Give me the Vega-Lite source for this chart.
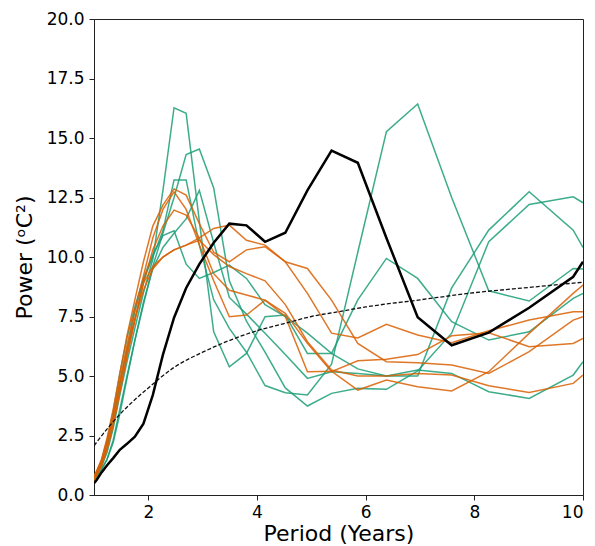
{
"$schema": "https://vega.github.io/schema/vega-lite/v6.json",
"width": 489, "height": 476,
"autosize": {"type": "none"},
"padding": {"left": 94, "top": 19, "right": 12, "bottom": 51},
"background": "white",
"config": {
  "view": {"stroke": "#222", "strokeWidth": 1},
  "axis": {"grid": false, "labelFont": "DejaVu Sans", "titleFont": "DejaVu Sans", "labelFontSize": 17, "titleFontSize": 22, "titleFontWeight": "normal", "labelColor": "#000", "titleColor": "#000", "domainColor": "#222", "tickColor": "#222", "tickSize": 5, "domainWidth": 1, "tickWidth": 1}
},
"datasets": {
"spec": [
{"s":"G1","p":1,"v":0.7},{"s":"G1","p":1.045,"v":0.9},{"s":"G1","p":1.139,"v":1.2},{"s":"G1","p":1.241,"v":1.8},{"s":"G1","p":1.353,"v":2.8},{"s":"G1","p":1.475,"v":4.2},{"s":"G1","p":1.607,"v":5.6},{"s":"G1","p":1.752,"v":7.0},{"s":"G1","p":1.91,"v":8.5},{"s":"G1","p":2.082,"v":9.9},{"s":"G1","p":2.269,"v":12.8},{"s":"G1","p":2.473,"v":16.27},{"s":"G1","p":2.696,"v":16.04},{"s":"G1","p":2.939,"v":11.5},{"s":"G1","p":3.203,"v":6.86},{"s":"G1","p":3.491,"v":5.39},{"s":"G1","p":3.806,"v":5.95},{"s":"G1","p":4.148,"v":7.49},{"s":"G1","p":4.521,"v":7.56},{"s":"G1","p":4.928,"v":5.95},{"s":"G1","p":5.372,"v":5.95},{"s":"G1","p":5.855,"v":8.2},{"s":"G1","p":6.382,"v":9.94},{"s":"G1","p":6.957,"v":9.1},{"s":"G1","p":7.583,"v":7.28},{"s":"G1","p":8.265,"v":6.51},{"s":"G1","p":9.009,"v":6.86},{"s":"G1","p":9.82,"v":8.26},{"s":"G1","p":10,"v":8.47},
{"s":"G2","p":1,"v":0.6},{"s":"G2","p":1.045,"v":0.75},{"s":"G2","p":1.139,"v":1.05},{"s":"G2","p":1.241,"v":1.5},{"s":"G2","p":1.353,"v":2.3},{"s":"G2","p":1.475,"v":3.6},{"s":"G2","p":1.607,"v":5.0},{"s":"G2","p":1.752,"v":6.5},{"s":"G2","p":1.91,"v":8.0},{"s":"G2","p":2.082,"v":9.6},{"s":"G2","p":2.269,"v":11.0},{"s":"G2","p":2.473,"v":12.5},{"s":"G2","p":2.696,"v":14.3},{"s":"G2","p":2.939,"v":14.54},{"s":"G2","p":3.203,"v":12.9},{"s":"G2","p":3.491,"v":9.0},{"s":"G2","p":3.806,"v":7.3},{"s":"G2","p":4.148,"v":6.0},{"s":"G2","p":4.521,"v":4.5},{"s":"G2","p":4.928,"v":3.74},{"s":"G2","p":5.372,"v":4.27},{"s":"G2","p":5.855,"v":4.48},{"s":"G2","p":6.382,"v":4.44},{"s":"G2","p":6.957,"v":5.21},{"s":"G2","p":7.583,"v":6.8},{"s":"G2","p":8.265,"v":10.64},{"s":"G2","p":9.009,"v":12.21},{"s":"G2","p":9.82,"v":12.53},{"s":"G2","p":10,"v":12.28},
{"s":"G3","p":1,"v":0.7},{"s":"G3","p":1.045,"v":0.85},{"s":"G3","p":1.139,"v":1.3},{"s":"G3","p":1.241,"v":2.0},{"s":"G3","p":1.353,"v":3.1},{"s":"G3","p":1.475,"v":4.6},{"s":"G3","p":1.607,"v":6.1},{"s":"G3","p":1.752,"v":7.7},{"s":"G3","p":1.91,"v":9.0},{"s":"G3","p":2.082,"v":10.0},{"s":"G3","p":2.269,"v":11.1},{"s":"G3","p":2.473,"v":13.24},{"s":"G3","p":2.696,"v":13.24},{"s":"G3","p":2.939,"v":10.5},{"s":"G3","p":3.203,"v":8.2},{"s":"G3","p":3.491,"v":7.0},{"s":"G3","p":3.806,"v":6.0},{"s":"G3","p":4.148,"v":4.6},{"s":"G3","p":4.521,"v":4.3},{"s":"G3","p":4.928,"v":4.2},{"s":"G3","p":5.372,"v":5.5},{"s":"G3","p":5.855,"v":10.2},{"s":"G3","p":6.382,"v":15.27},{"s":"G3","p":6.957,"v":16.43},{"s":"G3","p":7.583,"v":12.5},{"s":"G3","p":8.265,"v":8.58},{"s":"G3","p":9.009,"v":8.15},{"s":"G3","p":9.82,"v":9.52},{"s":"G3","p":10,"v":9.5},
{"s":"G4","p":1,"v":0.65},{"s":"G4","p":1.045,"v":0.8},{"s":"G4","p":1.139,"v":1.1},{"s":"G4","p":1.241,"v":1.5},{"s":"G4","p":1.353,"v":2.2},{"s":"G4","p":1.475,"v":3.4},{"s":"G4","p":1.607,"v":4.9},{"s":"G4","p":1.752,"v":6.5},{"s":"G4","p":1.91,"v":8.1},{"s":"G4","p":2.082,"v":9.5},{"s":"G4","p":2.269,"v":10.4},{"s":"G4","p":2.473,"v":11.0},{"s":"G4","p":2.696,"v":11.6},{"s":"G4","p":2.939,"v":12.8},{"s":"G4","p":3.203,"v":10.6},{"s":"G4","p":3.491,"v":8.3},{"s":"G4","p":3.806,"v":7.6},{"s":"G4","p":4.148,"v":6.8},{"s":"G4","p":4.521,"v":5.9},{"s":"G4","p":4.928,"v":4.9},{"s":"G4","p":5.372,"v":5.18},{"s":"G4","p":5.855,"v":5.1},{"s":"G4","p":6.382,"v":5.0},{"s":"G4","p":6.957,"v":5.25},{"s":"G4","p":7.583,"v":5.11},{"s":"G4","p":8.265,"v":4.34},{"s":"G4","p":9.009,"v":4.06},{"s":"G4","p":9.82,"v":5.04},{"s":"G4","p":10,"v":5.6},
{"s":"G5","p":1,"v":0.75},{"s":"G5","p":1.045,"v":0.95},{"s":"G5","p":1.139,"v":1.45},{"s":"G5","p":1.241,"v":2.3},{"s":"G5","p":1.353,"v":3.5},{"s":"G5","p":1.475,"v":5.1},{"s":"G5","p":1.607,"v":6.6},{"s":"G5","p":1.752,"v":7.9},{"s":"G5","p":1.91,"v":9.1},{"s":"G5","p":2.082,"v":10.1},{"s":"G5","p":2.269,"v":10.9},{"s":"G5","p":2.473,"v":11.1},{"s":"G5","p":2.696,"v":9.7},{"s":"G5","p":2.939,"v":9.1},{"s":"G5","p":3.203,"v":9.35},{"s":"G5","p":3.491,"v":9.66},{"s":"G5","p":3.806,"v":9.1},{"s":"G5","p":4.148,"v":8.0},{"s":"G5","p":4.521,"v":7.5},{"s":"G5","p":4.928,"v":6.8},{"s":"G5","p":5.372,"v":5.95},{"s":"G5","p":5.855,"v":5.3},{"s":"G5","p":6.382,"v":5.0},{"s":"G5","p":6.957,"v":5.0},{"s":"G5","p":7.583,"v":8.7},{"s":"G5","p":8.265,"v":11.13},{"s":"G5","p":9.009,"v":12.74},{"s":"G5","p":9.82,"v":11.13},{"s":"G5","p":10,"v":10.4},
{"s":"O1","p":1,"v":0.7},{"s":"O1","p":1.045,"v":0.9},{"s":"O1","p":1.139,"v":1.4},{"s":"O1","p":1.241,"v":2.2},{"s":"O1","p":1.353,"v":3.3},{"s":"O1","p":1.475,"v":4.8},{"s":"O1","p":1.607,"v":6.3},{"s":"O1","p":1.752,"v":7.8},{"s":"O1","p":1.91,"v":9.2},{"s":"O1","p":2.082,"v":10.8},{"s":"O1","p":2.269,"v":12.0},{"s":"O1","p":2.473,"v":12.74},{"s":"O1","p":2.696,"v":12.0},{"s":"O1","p":2.939,"v":10.5},{"s":"O1","p":3.203,"v":9.0},{"s":"O1","p":3.491,"v":7.49},{"s":"O1","p":3.806,"v":7.56},{"s":"O1","p":4.148,"v":8.19},{"s":"O1","p":4.521,"v":7.63},{"s":"O1","p":4.928,"v":6.37},{"s":"O1","p":5.372,"v":5.18},{"s":"O1","p":5.855,"v":5.64},{"s":"O1","p":6.382,"v":5.7},{"s":"O1","p":6.957,"v":5.9},{"s":"O1","p":7.583,"v":6.69},{"s":"O1","p":8.265,"v":6.82},{"s":"O1","p":9.009,"v":6.23},{"s":"O1","p":9.82,"v":6.37},{"s":"O1","p":10,"v":6.58},
{"s":"O2","p":1,"v":0.8},{"s":"O2","p":1.045,"v":1.0},{"s":"O2","p":1.139,"v":1.5},{"s":"O2","p":1.241,"v":2.4},{"s":"O2","p":1.353,"v":3.6},{"s":"O2","p":1.475,"v":5.1},{"s":"O2","p":1.607,"v":6.7},{"s":"O2","p":1.752,"v":8.2},{"s":"O2","p":1.91,"v":9.8},{"s":"O2","p":2.082,"v":11.3},{"s":"O2","p":2.269,"v":12.18},{"s":"O2","p":2.473,"v":12.86},{"s":"O2","p":2.696,"v":12.6},{"s":"O2","p":2.939,"v":11.4},{"s":"O2","p":3.203,"v":10.2},{"s":"O2","p":3.491,"v":9.8},{"s":"O2","p":3.806,"v":10.3},{"s":"O2","p":4.148,"v":10.43},{"s":"O2","p":4.521,"v":9.8},{"s":"O2","p":4.928,"v":8.47},{"s":"O2","p":5.372,"v":6.8},{"s":"O2","p":5.855,"v":6.6},{"s":"O2","p":6.382,"v":7.17},{"s":"O2","p":6.957,"v":6.72},{"s":"O2","p":7.583,"v":6.4},{"s":"O2","p":8.265,"v":6.9},{"s":"O2","p":9.009,"v":7.35},{"s":"O2","p":9.82,"v":7.7},{"s":"O2","p":10,"v":7.7},
{"s":"O3","p":1,"v":0.75},{"s":"O3","p":1.045,"v":0.95},{"s":"O3","p":1.139,"v":1.45},{"s":"O3","p":1.241,"v":2.2},{"s":"O3","p":1.353,"v":3.3},{"s":"O3","p":1.475,"v":4.7},{"s":"O3","p":1.607,"v":6.1},{"s":"O3","p":1.752,"v":7.4},{"s":"O3","p":1.91,"v":8.6},{"s":"O3","p":2.082,"v":9.5},{"s":"O3","p":2.269,"v":10.0},{"s":"O3","p":2.473,"v":10.3},{"s":"O3","p":2.696,"v":10.5},{"s":"O3","p":2.939,"v":10.8},{"s":"O3","p":3.203,"v":11.2},{"s":"O3","p":3.491,"v":11.34},{"s":"O3","p":3.806,"v":10.7},{"s":"O3","p":4.148,"v":10.5},{"s":"O3","p":4.521,"v":9.8},{"s":"O3","p":4.928,"v":9.52},{"s":"O3","p":5.372,"v":8.19},{"s":"O3","p":5.855,"v":6.37},{"s":"O3","p":6.382,"v":5.6},{"s":"O3","p":6.957,"v":5.56},{"s":"O3","p":7.583,"v":5.46},{"s":"O3","p":8.265,"v":5.11},{"s":"O3","p":9.009,"v":6.02},{"s":"O3","p":9.82,"v":7.35},{"s":"O3","p":10,"v":7.49},
{"s":"O4","p":1,"v":0.6},{"s":"O4","p":1.045,"v":0.8},{"s":"O4","p":1.139,"v":1.2},{"s":"O4","p":1.241,"v":1.9},{"s":"O4","p":1.353,"v":2.9},{"s":"O4","p":1.475,"v":4.3},{"s":"O4","p":1.607,"v":5.8},{"s":"O4","p":1.752,"v":7.3},{"s":"O4","p":1.91,"v":8.9},{"s":"O4","p":2.082,"v":10.3},{"s":"O4","p":2.269,"v":11.3},{"s":"O4","p":2.473,"v":11.97},{"s":"O4","p":2.696,"v":11.76},{"s":"O4","p":2.939,"v":10.8},{"s":"O4","p":3.203,"v":9.3},{"s":"O4","p":3.491,"v":8.6},{"s":"O4","p":3.806,"v":8.4},{"s":"O4","p":4.148,"v":8.19},{"s":"O4","p":4.521,"v":7.5},{"s":"O4","p":4.928,"v":5.18},{"s":"O4","p":5.372,"v":5.2},{"s":"O4","p":5.855,"v":4.41},{"s":"O4","p":6.382,"v":4.83},{"s":"O4","p":6.957,"v":4.55},{"s":"O4","p":7.583,"v":4.37},{"s":"O4","p":8.265,"v":5.18},{"s":"O4","p":9.009,"v":6.79},{"s":"O4","p":9.82,"v":8.47},{"s":"O4","p":10,"v":8.82},
{"s":"O5","p":1,"v":0.7},{"s":"O5","p":1.045,"v":0.85},{"s":"O5","p":1.139,"v":1.3},{"s":"O5","p":1.241,"v":2.0},{"s":"O5","p":1.353,"v":3.0},{"s":"O5","p":1.475,"v":4.4},{"s":"O5","p":1.607,"v":5.9},{"s":"O5","p":1.752,"v":7.4},{"s":"O5","p":1.91,"v":8.9},{"s":"O5","p":2.082,"v":9.6},{"s":"O5","p":2.269,"v":10.0},{"s":"O5","p":2.473,"v":10.3},{"s":"O5","p":2.696,"v":10.5},{"s":"O5","p":2.939,"v":10.7},{"s":"O5","p":3.203,"v":10.1},{"s":"O5","p":3.491,"v":9.6},{"s":"O5","p":3.806,"v":9.3},{"s":"O5","p":4.148,"v":9.0},{"s":"O5","p":4.521,"v":8.0},{"s":"O5","p":4.928,"v":6.44},{"s":"O5","p":5.372,"v":5.25},{"s":"O5","p":5.855,"v":5.0},{"s":"O5","p":6.382,"v":5.0},{"s":"O5","p":6.957,"v":5.1},{"s":"O5","p":7.583,"v":5.04},{"s":"O5","p":8.265,"v":4.59},{"s":"O5","p":9.009,"v":4.31},{"s":"O5","p":9.82,"v":4.69},{"s":"O5","p":10,"v":5.04}
],
"black": [
{"p":1,"v":0.49},{"p":1.045,"v":0.62},{"p":1.139,"v":0.95},{"p":1.241,"v":1.25},{"p":1.353,"v":1.55},{"p":1.475,"v":1.9},{"p":1.607,"v":2.15},{"p":1.752,"v":2.45},{"p":1.91,"v":3.0},{"p":2.082,"v":4.2},{"p":2.269,"v":5.9},{"p":2.473,"v":7.45},{"p":2.696,"v":8.7},{"p":2.939,"v":9.7},{"p":3.203,"v":10.6},{"p":3.491,"v":11.4},{"p":3.806,"v":11.33},{"p":4.148,"v":10.64},{"p":4.521,"v":11.02},{"p":4.928,"v":12.8},{"p":5.372,"v":14.47},{"p":5.855,"v":13.96},{"p":6.382,"v":10.8},{"p":6.957,"v":7.47},{"p":7.583,"v":6.29},{"p":8.265,"v":6.82},{"p":9.009,"v":7.87},{"p":9.82,"v":9.17},{"p":10,"v":9.8}
],
"dashed": [
{"p":1,"v":2.07},{"p":1.25,"v":2.8},{"p":1.5,"v":3.45},{"p":1.75,"v":4.0},{"p":2,"v":4.5},{"p":2.5,"v":5.4},{"p":3,"v":6.0},{"p":3.5,"v":6.5},{"p":4,"v":6.9},{"p":4.5,"v":7.2},{"p":5,"v":7.5},{"p":5.5,"v":7.7},{"p":6,"v":7.9},{"p":7,"v":8.2},{"p":8,"v":8.5},{"p":9,"v":8.72},{"p":10,"v":8.94}
]
},
"layer": [
{
  "data": {"name": "spec"},
  "mark": {"type": "line", "strokeWidth": 1.5, "opacity": 0.85, "clip": true},
  "encoding": {
    "x": {"field": "p", "type": "quantitative", "scale": {"domain": [1, 10], "nice": false, "zero": false}, "axis": {"values": [2, 4, 6, 8, 10], "format": "d", "title": "Period (Years)", "labelPadding": 4, "titlePadding": 3}},
    "y": {"field": "v", "type": "quantitative", "scale": {"domain": [0, 20], "nice": false}, "axis": {"values": [0, 2.5, 5, 7.5, 10, 12.5, 15, 17.5, 20], "format": ".1f", "title": "Power (ᵒC²)", "labelPadding": 5, "titlePadding": 10}},
    "color": {"field": "s", "type": "nominal", "legend": null, "scale": {"domain": ["G1","G2","G3","G4","G5","O1","O2","O3","O4","O5"], "range": ["#1b9e77","#1b9e77","#1b9e77","#1b9e77","#1b9e77","#d95f02","#d95f02","#d95f02","#d95f02","#d95f02"]}},
    "order": {"field": "p", "type": "quantitative"}
  }
},
{
  "data": {"name": "dashed"},
  "mark": {"type": "line", "color": "#111", "strokeWidth": 1.3, "strokeDash": [4, 2], "interpolate": "monotone", "clip": true},
  "encoding": {
    "x": {"field": "p", "type": "quantitative"},
    "y": {"field": "v", "type": "quantitative"}
  }
},
{
  "data": {"name": "black"},
  "mark": {"type": "line", "color": "black", "strokeWidth": 2.5, "clip": true},
  "encoding": {
    "x": {"field": "p", "type": "quantitative"},
    "y": {"field": "v", "type": "quantitative"}
  }
}
]
}
